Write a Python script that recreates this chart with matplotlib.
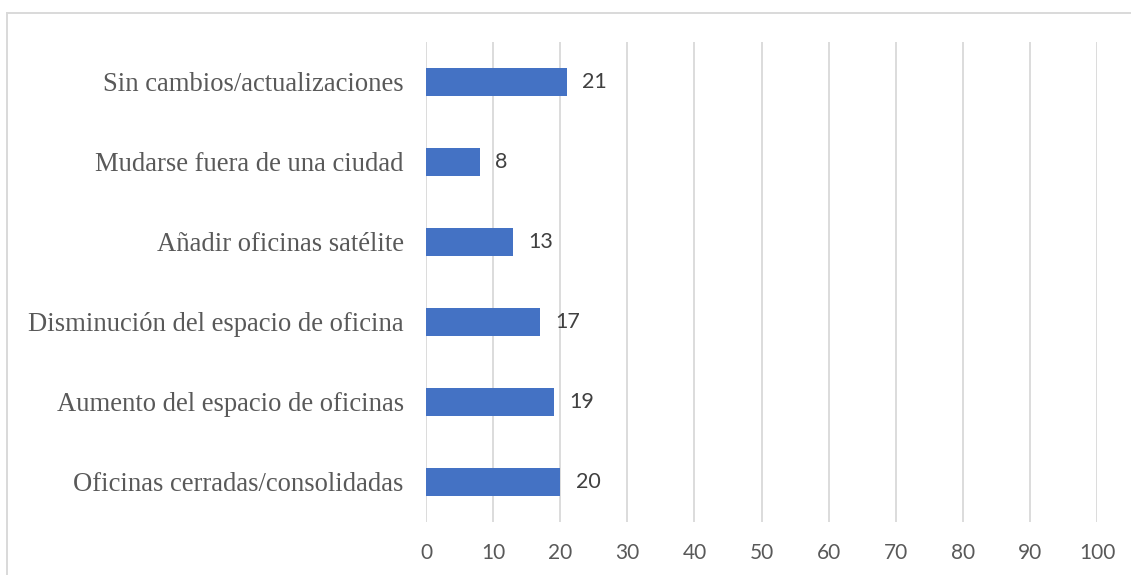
import matplotlib.pyplot as plt
from matplotlib.lines import Line2D

# Categories, top to bottom as shown in the chart
categories = ['Sin cambios/actualizaciones',
              'Mudarse fuera de una ciudad',
              'Añadir oficinas satélite',
              'Disminución del espacio de oficina',
              'Aumento del espacio de oficinas',
              'Oficinas cerradas/consolidadas']
values = [21, 8, 13, 17, 19, 20]
x_ticks = [0, 10, 20, 30, 40, 50, 60, 70, 80, 90, 100]

BAR_COLOR = '#4472C4'
GRID_COLOR = '#D9D9D9'

fig = plt.figure(figsize=(11.31, 5.75), dpi=100)
ax = fig.add_axes([0.3767, 0.0922, 0.5933, 0.8356])

# Plot bottom-up so the first category ends on top
pos = list(range(len(categories)))[::-1]
ax.barh(pos, values, height=0.35, color=BAR_COLOR, zorder=3)

for p, v in zip(pos, values):
    ax.text(v + 2.3, p, str(v), va='center', ha='left',
            fontsize=15.5, family='Lato', color='#404040')

ax.set_xlim(0, 100)
ax.set_ylim(-0.5, 5.5)
ax.set_xticks(x_ticks)
ax.set_yticks(pos)
ax.set_yticklabels(categories, family='Liberation Serif', fontsize=19.2,
                   color='#595959')
for lab in ax.get_xticklabels():
    lab.set_family('Lato')
    lab.set_fontsize(15)
    lab.set_color('#595959')

ax.tick_params(axis='y', length=0, pad=16)
ax.tick_params(axis='x', length=0, pad=15)
ax.grid(axis='x', color=GRID_COLOR, linewidth=1.3, zorder=0)
for s in ax.spines.values():
    s.set_visible(False)

# Chart area border (only top and left edges visible in the crop)
fig.add_artist(Line2D([0.0062, 1.0], [0.977, 0.977], color=GRID_COLOR,
                      linewidth=1.4, transform=fig.transFigure))
fig.add_artist(Line2D([0.0062, 0.0062], [0.0, 0.977], color=GRID_COLOR,
                      linewidth=1.4, transform=fig.transFigure))

fig.savefig('out.png', dpi=100)
